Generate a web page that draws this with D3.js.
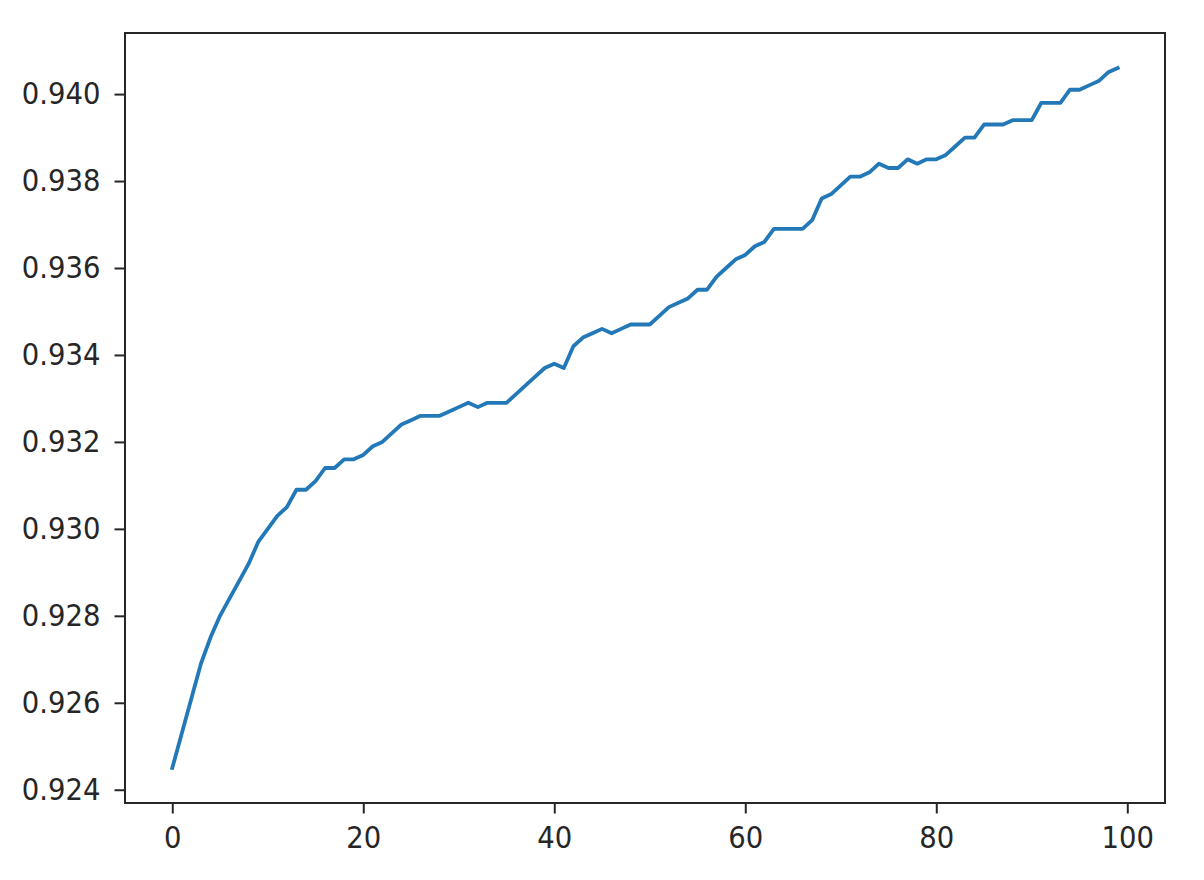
<!DOCTYPE html>
<html>

<head>
    <meta charset="utf-8">
    <script src="https://d3js.org/d3.v7.min.js"></script>
    <style>
        body {
            margin: 0;
            background: #fff;
        }

        .tick text {
            font-family: "DejaVu Sans", sans-serif;
            font-size: 27.5px;
            fill: #262626;
            transform-box: fill-box;
            transform-origin: center;
            transform: scaleY(1.09);
        }

        .tick line {
            stroke: #262626;
            stroke-width: 2px;
        }
    </style>
</head>

<body>
    <div id="chart"></div>

    <script>
        // epoch index and the accuracy
        var epochs = d3.range(0, 100);
        var accuracy = [
            0.9245, 0.9253, 0.9261, 0.9269, 0.9275, 0.9280, 0.9284, 0.9288, 0.9292, 0.9297,
            0.9300, 0.9303, 0.9305, 0.9309, 0.9309, 0.9311, 0.9314, 0.9314, 0.9316, 0.9316,
            0.9317, 0.9319, 0.9320, 0.9322, 0.9324, 0.9325, 0.9326, 0.9326, 0.9326, 0.9327,
            0.9328, 0.9329, 0.9328, 0.9329, 0.9329, 0.9329, 0.9331, 0.9333, 0.9335, 0.9337,
            0.9338, 0.9337, 0.9342, 0.9344, 0.9345, 0.9346, 0.9345, 0.9346, 0.9347, 0.9347,
            0.9347, 0.9349, 0.9351, 0.9352, 0.9353, 0.9355, 0.9355, 0.9358, 0.9360, 0.9362,
            0.9363, 0.9365, 0.9366, 0.9369, 0.9369, 0.9369, 0.9369, 0.9371, 0.9376, 0.9377,
            0.9379, 0.9381, 0.9381, 0.9382, 0.9384, 0.9383, 0.9383, 0.9385, 0.9384, 0.9385,
            0.9385, 0.9386, 0.9388, 0.9390, 0.9390, 0.9393, 0.9393, 0.9393, 0.9394, 0.9394,
            0.9394, 0.9398, 0.9398, 0.9398, 0.9401, 0.9401, 0.9402, 0.9403, 0.9405, 0.9406
        ];
        var xTicks = [0, 20, 40, 60, 80, 100];
        var yTicks = [0.924, 0.926, 0.928, 0.930, 0.932, 0.934, 0.936, 0.938, 0.940];

        var margin = { top: 33, right: 39, bottom: 77, left: 125 },
            width = 1204 - margin.left - margin.right,
            height = 880 - margin.top - margin.bottom;

        var svg = d3.select("#chart")
            .append("svg")
            .attr("width", 1204)
            .attr("height", 880)
            .append("g")
            .attr("transform", "translate(" + margin.left + "," + margin.top + ")");

        // matplotlib style 5% padding on both axes
        var xPad = (d3.max(epochs) - d3.min(epochs)) * 0.05;
        var x = d3.scaleLinear()
            .domain([d3.min(epochs) - xPad, d3.max(epochs) + xPad])
            .range([0, width]);

        var yExt = d3.extent(accuracy);
        var yPad = (yExt[1] - yExt[0]) * 0.05;
        var y = d3.scaleLinear()
            .domain([yExt[0] - yPad, yExt[1] + yPad])
            .range([height, 0]);

        svg.append("g")
            .attr("transform", "translate(0," + height + ")")
            .call(d3.axisBottom(x)
                .tickValues(xTicks)
                .tickFormat(d3.format("d"))
                .tickSize(10.5)
                .tickSizeOuter(0)
                .tickPadding(14))
            .call(function (g) { g.select(".domain").remove(); });

        svg.append("g")
            .call(d3.axisLeft(y)
                .tickValues(yTicks)
                .tickFormat(d3.format(".3f"))
                .tickSize(10.5)
                .tickSizeOuter(0)
                .tickPadding(14))
            .call(function (g) { g.select(".domain").remove(); });

        var line = d3.line()
            .x(function (d, i) { return x(epochs[i]); })
            .y(function (d) { return y(d); });

        svg.append("path")
            .datum(accuracy)
            .attr("d", line)
            .attr("fill", "none")
            .attr("stroke", "#2379b8")
            .attr("stroke-width", 3.8)
            .attr("stroke-linejoin", "round")
            .attr("stroke-linecap", "square");

        // axes frame
        svg.append("rect")
            .attr("x", 0)
            .attr("y", 0)
            .attr("width", width)
            .attr("height", height)
            .attr("fill", "none")
            .attr("stroke", "#262626")
            .attr("stroke-width", 2);
    </script>
</body>

</html>
